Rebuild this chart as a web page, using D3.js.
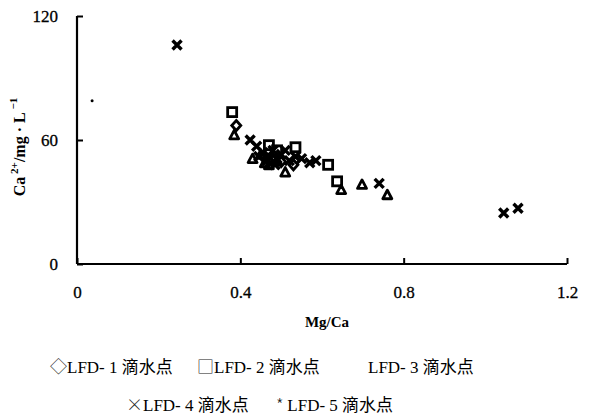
<!DOCTYPE html>
<html><head><meta charset="utf-8">
<script src="https://cdn.jsdelivr.net/npm/d3@7"></script>
<style>body{margin:0;background:#fff}svg{display:block}</style>
</head><body>
<script>
const xTicks = [0, 0.4, 0.8, 1.2];
const yTicks = [0, 60, 120];
const seriesNames = ["LFD- 1 ", "LFD- 2 ", "LFD- 3 ", "LFD- 4 ", "LFD- 5 "];
const seriesSuffix = "滴水点";
// [Mg/Ca, Ca2+]
const lfd1 = [[0.39,67],[0.46,52],[0.48,50],[0.50,49.5],[0.53,48]];
const lfd2 = [[0.38,73.5],[0.47,57.5],[0.49,55],[0.535,56.5],[0.615,48],[0.637,40]];
const lfd3 = [[0.385,62.5],[0.43,51],[0.45,53],[0.46,49],[0.47,48],[0.49,50],[0.51,44.5],[0.647,36],[0.698,38.5],[0.76,33.5]];
const lfd4 = [[0.245,106],[0.424,60],[0.44,57],[0.445,52],[0.455,54],[0.465,50],[0.47,52],[0.48,55],[0.485,48],[0.49,51],[0.50,53],[0.51,55],[0.52,50],[0.535,52],[0.55,51],[0.57,49],[0.585,50],[0.74,39],[1.045,24.7],[1.08,27]];
const lfd5 = [[0.037,79]];

const W = 607, H = 418;
const svg = d3.select("body").append("svg").attr("width", W).attr("height", H);
const x = d3.scaleLinear().domain([0, 1.2]).range([77, 567]);
const y = d3.scaleLinear().domain([0, 120]).range([264, 16]);
const serif = "'Liberation Serif','Times New Roman',serif";
const cjk = "'Noto Sans CJK SC',sans-serif";

// axes
const gx = svg.append("g").attr("transform", `translate(0,${y(0)})`)
  .call(d3.axisBottom(x).tickValues(xTicks).tickSize(-6).tickPadding(22).tickFormat(d3.format("~g")));
const gy = svg.append("g").attr("transform", `translate(${x(0)},0)`)
  .call(d3.axisLeft(y).tickValues(yTicks).tickSize(-6).tickPadding(19));
[gx, gy].forEach(g => {
  g.select(".domain").attr("stroke", "#000").attr("stroke-width", 2.2);
  g.selectAll(".tick line").attr("stroke", "#000").attr("stroke-width", 2);
  g.selectAll(".tick text").attr("font-family", serif).attr("font-size", 17).attr("fill", "#000")
    .attr("stroke", "#000").attr("stroke-width", 0.3);
});
gx.select(".domain").attr("d", `M${x(0)},0H${x(1.2)}`);
gy.select(".domain").attr("d", `M0,${y(0)}V${y(120)}`);
gy.selectAll(".tick text").attr("dy", "0.35em");

// axis titles
svg.append("text").attr("x", 327).attr("y", 327).attr("text-anchor", "middle")
  .attr("font-family", serif).attr("font-size", 15).attr("font-weight", "bold").text("Mg/Ca");
const yl = svg.append("text").attr("transform", "translate(25,147) rotate(-90)").attr("text-anchor", "middle")
  .attr("font-family", serif).attr("font-size", 16).attr("font-weight", "bold");
yl.append("tspan").text("Ca");
yl.append("tspan").attr("font-size", 11).attr("dy", -7).text(" 2+");
yl.append("tspan").attr("dy", 7).text("/mg · L");
yl.append("tspan").attr("font-size", 11).attr("dy", -8).text(" −1");

// markers
const plot = svg.append("g");
const sw = 2.8;
plot.selectAll(".d1").data(lfd1).join("path")
  .attr("transform", d => `translate(${x(d[0])},${y(d[1])})`)
  .attr("d", "M0,-5L4.5,0L0,5L-4.5,0Z").attr("fill", "none").attr("stroke", "#000").attr("stroke-width", sw);
plot.selectAll(".d2").data(lfd2).join("rect")
  .attr("x", d => x(d[0]) - 4.5).attr("y", d => y(d[1]) - 4.5).attr("width", 9).attr("height", 9)
  .attr("fill", "none").attr("stroke", "#000").attr("stroke-width", sw);
plot.selectAll(".d3").data(lfd3).join("path")
  .attr("transform", d => `translate(${x(d[0])},${y(d[1])})`)
  .attr("d", "M0,-4.5L4.5,4L-4.5,4Z").attr("fill", "none").attr("stroke", "#000").attr("stroke-width", sw).attr("stroke-linejoin", "round");
plot.selectAll(".d4").data(lfd4).join("path")
  .attr("transform", d => `translate(${x(d[0])},${y(d[1])})`)
  .attr("d", "M-4.5,-4.5L4.5,4.5M4.5,-4.5L-4.5,4.5").attr("fill", "none").attr("stroke", "#000").attr("stroke-width", 3.4);
plot.selectAll(".d5").data(lfd5).join("circle")
  .attr("cx", d => x(d[0])).attr("cy", d => y(d[1])).attr("r", 1.5).attr("fill", "#000");

// legend
const legendItems = [
  {sym: "◇", i: 0, x: 50, y: 373},
  {sym: "□", i: 1, x: 197, y: 373},
  {sym: "", i: 2, x: 368, y: 373},
  {sym: "×", i: 3, x: 126, y: 411},
  {sym: "*", i: 4, x: 276, y: 411}
];
const lg = svg.append("g");
legendItems.forEach(it => {
  const t = lg.append("text").attr("x", it.x).attr("y", it.y).attr("font-size", 17).attr("fill", "#000");
  if (it.sym) t.append("tspan").attr("font-family", cjk).attr("font-weight", 300).attr("fill", "#222").text(it.sym + (it.sym === "*" ? "  " : ""));
  t.append("tspan").attr("font-family", serif).text(seriesNames[it.i]);
  t.append("tspan").attr("font-family", cjk).text(seriesSuffix);
});
</script>
</body></html>
